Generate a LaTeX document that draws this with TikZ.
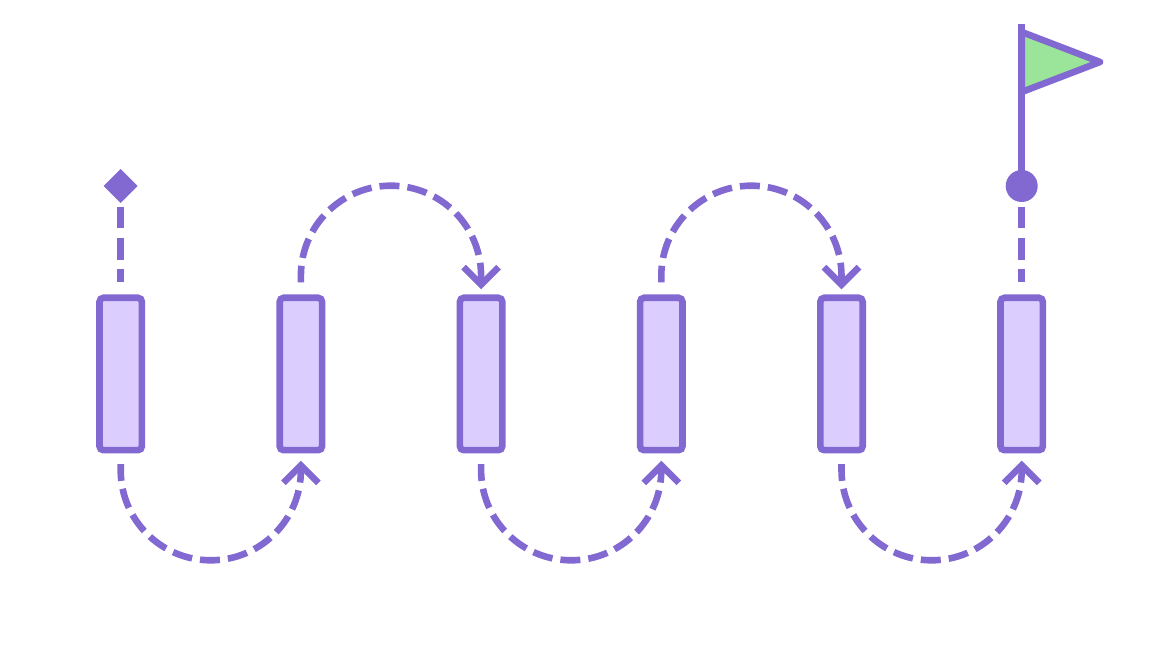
\documentclass[tikz,border=0pt]{standalone}
\usetikzlibrary{arrows.meta,calc}
\definecolor{pur}{RGB}{130,104,209}
\definecolor{lil}{RGB}{219,206,255}
\definecolor{grn}{RGB}{155,229,155}
\tikzset{
  x=1pt,y=1pt,
  barbox/.style={draw=pur,fill=lil,line width=6.6pt,rounded corners=4pt,minimum width=42.4pt,minimum height=152.4pt,inner sep=0pt,outer sep=0pt},
  straightdash/.style={draw=pur,line width=6.6pt,dash pattern=on 21.8pt off 9.3pt},
  curvedash/.style={draw=pur,line width=6.6pt,dash pattern=on 20pt off 8pt,dash phase=3.3pt,-{Straight Barb[length=17.5pt,width=35pt,line width=6.6pt]}},
}
\begin{document}
\begin{tikzpicture}
\useasboundingbox (0,0) rectangle (1152,648);
\foreach \i/\px in {1/120.7,2/300.9,3/481.1,4/661.3,5/841.5,6/1021.7}{
  \node[barbox] (b\i) at (\px,274) {};
  \coordinate (t\i) at ($(b\i.north)+(0,15.3)$);
  \coordinate (u\i) at ($(b\i.south)+(0,-14)$);
  \coordinate (tt\i) at ($(b\i.north)+(0,8.5)$);
  \coordinate (uu\i) at ($(b\i.south)+(0,-10.5)$);
}
% start diamond
\fill[pur] (103.7,462) -- (120.7,479) -- (137.7,462) -- (120.7,445) -- cycle;
\coordinate (ds) at (120.7,441.3);
\draw[straightdash] (ds) -- (t1);
% bottom arcs
\draw[curvedash] (u1) -- ++(0,-6) arc[start angle=180,end angle=360,radius=90.1] -- (uu2);
\draw[curvedash] (u3) -- ++(0,-6) arc[start angle=180,end angle=360,radius=90.1] -- (uu4);
\draw[curvedash] (u5) -- ++(0,-6) arc[start angle=180,end angle=360,radius=90.1] -- (uu6);
% top arcs
\draw[curvedash] (t2) -- ++(0,6.7) arc[start angle=180,end angle=0,radius=90.1] -- (tt3);
\draw[curvedash] (t4) -- ++(0,6.7) arc[start angle=180,end angle=0,radius=90.1] -- (tt5);
% flag
\node[circle,fill=pur,minimum size=32pt,inner sep=0pt,outer sep=0pt] (goal) at (1021.7,462) {};
\coordinate (gs) at (1021.7,441.3);
\draw[straightdash] (gs) -- (t6);
\coordinate (pt) at (1021.7,624);
\draw[pur,line width=6.6pt] (goal.center) -- (pt);
\filldraw[draw=pur,fill=grn,line width=6.6pt,line join=round] (1021.7,616) -- (1100,586) -- (1021.7,556) -- cycle;
\end{tikzpicture}
\end{document}
